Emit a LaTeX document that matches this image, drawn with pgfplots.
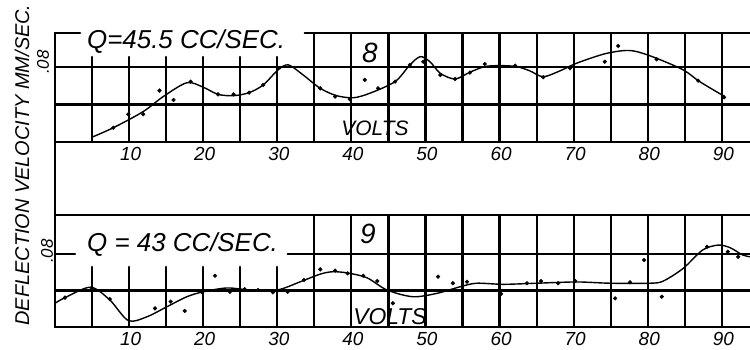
\documentclass[border=0pt]{standalone}
\usepackage{pgfplots}
\pgfplotsset{compat=1.18}
\usepackage{fontspec}
\setmainfont{Liberation Sans}
\tikzset{gridl/.style={line width=2.2bp, black, line cap=round}}
\pgfplotsset{panel/.style={scale only axis, width=695bp, xmin=0, xmax=93.8, ymin=0.04,
  axis line style={draw=none}, xtick={10,20,...,90}, ytick=\empty, major tick length=0pt,
  clip=false, /pgf/number format/assume math mode=true,
  xticklabel style={font=\itshape\fontsize{19}{19}\selectfont, inner sep=0pt, anchor=north, yshift=-5bp, xshift=1.5bp}}}
\begin{document}
\begin{tikzpicture}[x=1bp,y=1bp]
\useasboundingbox (0,0) rectangle (750,349);
% ---------- top panel (8)
\begin{axis}[panel, at={(55bp,207bp)}, anchor=south west, height=109bp, ymax=0.0981]
\pgfplotsinvokeforeach{5,10,15,20,25,30}{\draw[gridl] (axis cs:#1,0.04) -- (axis cs:#1,0.0853);}
\pgfplotsinvokeforeach{35,40,45,50,55,60,65,70,75,80,85,90}{\draw[gridl] (axis cs:#1,0.04) -- (axis cs:#1,0.0981);}
\pgfplotsinvokeforeach{0.04,0.06,0.08}{\draw[gridl] (axis cs:0,#1) -- (axis cs:93.8,#1);}
\draw[gridl] (axis cs:0,0.0981) -- (axis cs:3.4,0.0981);
\draw[gridl] (axis cs:33.7,0.0981) -- (axis cs:93.8,0.0981);
\addplot[smooth, line width=1.4bp, black, no marks] coordinates {
(4.95,0.0425) (7.87,0.0476) (11.9,0.0562) (14.6,0.0642) (17.8,0.0716) (20.0,0.0692)
(22.0,0.0654) (24.1,0.0647) (26.2,0.0663) (28.1,0.0704) (30.1,0.0784) (31.5,0.0811)
(33.5,0.0757) (35.8,0.0686) (38.0,0.0647) (40.3,0.0636) (42.5,0.0660) (45.9,0.0722)
(47.9,0.0811) (49.3,0.0855) (50.6,0.0828) (52.0,0.0766) (54.0,0.0736) (56.0,0.0772)
(58.0,0.0802) (60.1,0.0807) (62.3,0.0802) (64.1,0.0779) (65.9,0.0748) (68.2,0.0780)
(70.4,0.0820) (74.0,0.0868) (76.7,0.0887) (78.5,0.0882) (81.2,0.0846) (84.8,0.0784)
(87.0,0.0722) (90.4,0.0642)};
\addplot[only marks, mark=*, mark size=1.9bp, black] coordinates {
(7.87,0.0476) (9.9,0.0548) (11.9,0.0548) (14.1,0.0674) (16.0,0.0624) (18.3,0.0722)
(22.0,0.0654) (24.1,0.0654) (26.2,0.0663) (28.1,0.0704) (30.1,0.0793) (35.8,0.0686)
(37.8,0.0642) (39.8,0.0628) (41.8,0.0731) (43.6,0.0686) (45.9,0.0722) (47.9,0.0811)
(49.7,0.0828) (52.0,0.0757) (54.0,0.0736) (56.0,0.0770) (58.0,0.0816) (60.1,0.0802)
(62.1,0.0807) (65.9,0.0745) (69.5,0.0793) (74.2,0.0828) (76.0,0.0912) (81.2,0.0841)
(86.8,0.0727) (90.3,0.0638)};
\end{axis}
% ---------- bottom panel (9)
\begin{axis}[panel, at={(55bp,22bp)}, anchor=south west, height=112bp, ymax=0.1014]
\pgfplotsinvokeforeach{5,10,15,20,25,30}{\draw[gridl] (axis cs:#1,0.04) -- (axis cs:#1,0.073);}
\pgfplotsinvokeforeach{35,40,45,50,55,60,65,70,75,80,85,90}{\draw[gridl] (axis cs:#1,0.04) -- (axis cs:#1,0.1014);}
\pgfplotsinvokeforeach{0.04,0.06,0.1014}{\draw[gridl] (axis cs:0,#1) -- (axis cs:93.8,#1);}
\draw[gridl] (axis cs:0,0.08) -- (axis cs:2.7,0.08);
\draw[gridl] (axis cs:31.4,0.08) -- (axis cs:93.8,0.08);
\addplot[smooth, line width=1.4bp, black, no marks] coordinates {
(0,0.0530) (1.35,0.0561) (4.8,0.0618) (7.4,0.0548) (9.9,0.0435) (12.4,0.0456)
(15.1,0.0511) (17.8,0.0566) (20.0,0.0593) (23.2,0.0614) (26.3,0.0603) (30.0,0.0603)
(33.1,0.0648) (35.8,0.0690) (37.5,0.0703) (39.5,0.0696) (42.1,0.0670) (44.8,0.0603)
(48.3,0.0566) (51.6,0.0585) (54.7,0.0621) (56.9,0.0640) (60.5,0.0634) (65.0,0.0640)
(70.4,0.0647) (74.9,0.0640) (80.3,0.0640) (82.1,0.0652) (84.8,0.0722) (87.4,0.0822)
(89.5,0.0849) (91.1,0.0835) (92.8,0.0795) (93.8,0.0785)};
\addplot[only marks, mark=*, mark size=1.9bp, black] coordinates {
(1.35,0.0561) (4.95,0.0615) (7.4,0.0553) (13.5,0.0502) (15.6,0.0539) (17.5,0.0488)
(19.8,0.0593) (21.6,0.0681) (23.6,0.0593) (25.6,0.0607) (27.4,0.0603) (29.4,0.0590)
(31.4,0.0593) (33.6,0.0658) (35.8,0.0716) (37.8,0.0709) (39.5,0.0694) (41.6,0.0681)
(43.5,0.0652) (45.6,0.0530) (51.7,0.0676) (53.7,0.0640) (55.6,0.0648) (60.2,0.0581)
(63.7,0.0640) (65.6,0.0652) (67.9,0.0640) (70.2,0.0652) (75.6,0.0557) (77.6,0.0645)
(79.5,0.0767) (81.9,0.0566) (88.0,0.0840) (90.8,0.0813) (92.2,0.0785)};
\end{axis}
% left frame
\draw[gridl] (55,22) -- (55,316);
% texts
\node[anchor=west, font=\itshape\fontsize{26}{26}\selectfont, inner sep=0pt] at (87,307) {Q=45.5 CC/SEC.};
\node[anchor=west, font=\itshape\fontsize{26}{26}\selectfont, inner sep=0pt] at (87,104) {Q = 43 CC/SEC.};
\node[font=\itshape\fontsize{28}{28}\selectfont, inner sep=0pt] at (370,296) {8};
\node[font=\itshape\fontsize{28}{28}\selectfont, inner sep=0pt] at (368,115) {9};
\node[font=\itshape\fontsize{21}{21}\selectfont, inner sep=0pt] at (375,221) {VOLTS};
\node[font=\itshape\fontsize{23}{23}\selectfont, inner sep=0pt] at (390,32) {VOLTS};
\node[rotate=90, font=\itshape\fontsize{17}{17}\selectfont, inner sep=0pt] at (43,287) {.08};
\node[rotate=90, font=\itshape\fontsize{17}{17}\selectfont, inner sep=0pt] at (47,98) {.08};
\node[rotate=90, font=\itshape\fontsize{20}{20}\selectfont, inner sep=0pt] at (22,184) {DEFLECTION VELOCITY MM/SEC.};
\end{tikzpicture}
\end{document}
